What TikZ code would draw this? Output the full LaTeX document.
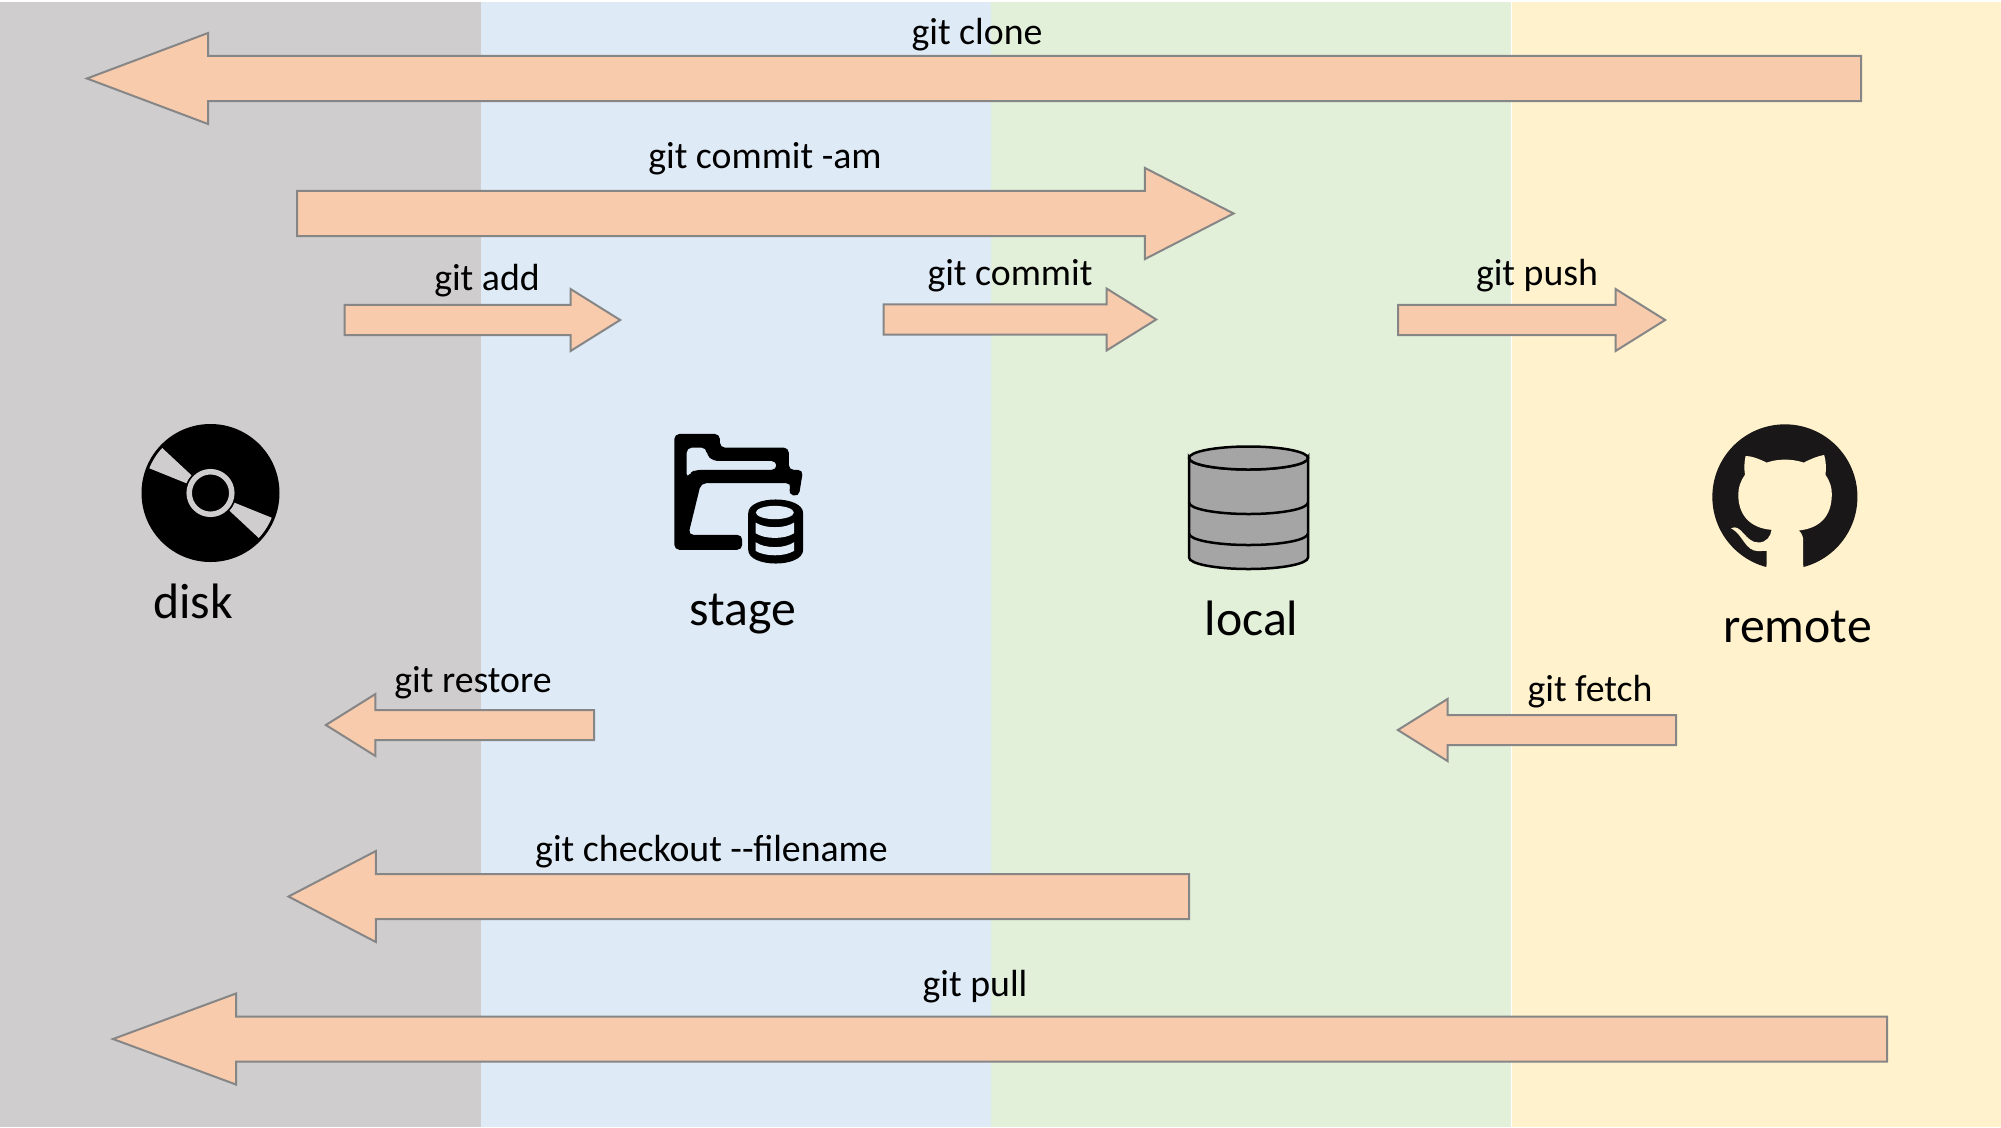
\documentclass[tikz,border=0pt]{standalone}
\usepackage{fontspec}
\setmainfont{Carlito}
\usetikzlibrary{shapes.arrows}
\definecolor{diskband}{HTML}{CFCDCD}
\definecolor{stageband}{HTML}{DEEAF6}
\definecolor{localband}{HTML}{E2EFD9}
\definecolor{remoteband}{HTML}{FFF2CC}
\definecolor{arrowfill}{HTML}{F8CBAD}
\definecolor{arrowline}{HTML}{868686}
\definecolor{dbgrey}{HTML}{A5A5A5}
\definecolor{catblack}{HTML}{1A1718}
\begin{document}
\begin{tikzpicture}[
    x=0.01cm, y=-0.01cm,
    gitarrow/.style={single arrow, draw=arrowline, fill=arrowfill, line width=0.02cm,
        inner xsep=0pt, outer sep=0pt, anchor=tail},
    bigarrow/.style={gitarrow, inner ysep=0.215cm, minimum width=0.89cm,
        single arrow head extend=0.23cm},
    smallarrow/.style={gitarrow, inner ysep=0.14cm, minimum width=0.60cm,
        single arrow head extend=0.16cm, single arrow tip angle=64},
    goleft/.style={shape border rotate=180},
    gitlabel/.style={font=\fontsize{10.75pt}{13pt}\selectfont, inner sep=0pt},
    placelabel/.style={font=\fontsize{14.15pt}{16pt}\selectfont, inner sep=0pt, anchor=base},
    zoomed/.style={x=0.00333cm, y=-0.00333cm},
    dbline/.style={draw=black, line width=0.025cm, fill=dbgrey}
]
\useasboundingbox (0,0) rectangle (2001,1127);
\fill[diskband] (0,2) rectangle (481,1127);
\fill[stageband] (481,2) rectangle (991,1127);
\fill[localband] (991,2) rectangle (1510.5,1127);
\fill[remoteband] (1512,2) rectangle (2001,1127);

\node (ArrowClone) [bigarrow, goleft, minimum height=17.73cm, single arrow tip angle=41.2] at (1861,78.5) {};
\node (ArrowCommitAll) [bigarrow, minimum height=9.36cm, single arrow tip angle=54.4] at (297,213.5) {};
\node (ArrowAdd) [smallarrow, minimum height=2.755cm] at (344.5,320) {};
\node (ArrowCommit) [smallarrow, minimum height=2.725cm] at (883.5,319.5) {};
\node (ArrowPush) [smallarrow, minimum height=2.67cm] at (1398,320) {};
\node (ArrowRestore) [smallarrow, goleft, minimum height=2.68cm] at (594,725) {};
\node (ArrowFetch) [smallarrow, goleft, minimum height=2.78cm] at (1676,730) {};
\node (ArrowCheckout) [bigarrow, goleft, minimum height=9.00cm, single arrow tip angle=55] at (1189,896.5) {};
\node (ArrowPull) [bigarrow, goleft, minimum height=17.73cm, single arrow tip angle=40.6] at (1887,1039) {};

\node (LabelClone) [gitlabel] at (977,34.5) {git clone};
\node (LabelCommitAll) [gitlabel] at (765,158.5) {git commit -am};
\node (LabelAdd) [gitlabel] at (487,280.5) {git add};
\node (LabelCommit) [gitlabel] at (1010,275.5) {git commit};
\node (LabelPush) [gitlabel] at (1537,275.5) {git push};
\node (LabelRestore) [gitlabel] at (473,682.5) {git restore};
\node (LabelFetch) [gitlabel] at (1590,691.5) {git fetch};
\node (LabelCheckout) [gitlabel] at (711.5,851.5) {git checkout -{}-f{}ilename};
\node (LabelPull) [gitlabel] at (975,986.5) {git pull};

\node (LabelDisk) [placelabel] at (193,618.5) {disk};
\node (LabelStage) [placelabel] at (742.5,625) {stage};
\node (LabelLocal) [placelabel] at (1251.5,635) {local};
\node (LabelRemote) [placelabel] at (1797.5,642) {remote};

% disk
\begin{scope}[shift={(210.5,493)}]
\fill[black] (0,0) circle[radius=69];
\fill[diskband] (-137:26) -- (-137:66) arc[start angle=-137, end angle=-158, radius=66]
    -- (-158:26) arc[start angle=-158, end angle=-137, radius=26] -- cycle;
\fill[diskband] (43:26) -- (43:66) arc[start angle=43, end angle=22, radius=66]
    -- (22:26) arc[start angle=22, end angle=43, radius=26] -- cycle;
\draw[diskband, line width=0.055cm] (0,0) circle[radius=21.3];
\end{scope}

% stage
\begin{scope}[shift={(665,425)}, zoomed]
\fill[black, even odd rule, rounded corners=0.5mm]
    (28,27) -- (165,27) -- (165,68) -- (372,68) -- (372,135) -- (415,135) -- (402,215)
    -- (370,208) -- (380,175) -- (108,175) -- (70,330) -- (232,330) -- (232,375) -- (28,375) -- cycle
    (65,68) -- (125,68) -- (125,90) -- (145,108) -- (335,108) -- (335,135) -- (90,135) -- (75,145) -- (65,160) -- cycle;
\fill[black] (250,265) .. controls (250,210) and (415,210) .. (415,265) -- (415,375)
    .. controls (415,430) and (250,430) .. (250,375) -- cycle;
\fill[stageband] (330,263) ellipse[x radius=57, y radius=20];
\fill[stageband] (272,293) .. controls (300,312) and (360,312) .. (388,293) -- (388,325)
    .. controls (360,344) and (300,344) .. (272,325) -- cycle;
\fill[stageband] (272,352) .. controls (300,372) and (360,372) .. (388,352) -- (388,378)
    .. controls (360,396) and (300,396) .. (272,378) -- cycle;
\end{scope}

% local
\draw[dbline] (1189,458) -- (1189,557.5) arc[start angle=180, end angle=0, x radius=59.5, y radius=11.5]
    -- (1308,458) arc[start angle=0, end angle=180, x radius=59.5, y radius=11.5] -- cycle;
\draw[dbline] (1248.5,458) ellipse[x radius=59.5, y radius=11.5];
\draw[black, line width=0.025cm] (1189,502.5) arc[start angle=180, end angle=0, x radius=59.5, y radius=11.5];
\draw[black, line width=0.025cm] (1189,533.5) arc[start angle=180, end angle=0, x radius=59.5, y radius=11.5];

% remote
\begin{scope}[shift={(1705,420)}, zoomed]
\fill[catblack] (240,231) circle[radius=218];
\fill[remoteband] (122,108) .. controls (140,108) and (165,118) .. (185,128)
    .. controls (220,116) and (260,116) .. (297,128)
    .. controls (315,118) and (340,108) .. (358,105)
    .. controls (364,125) and (364,145) .. (362,165)
    .. controls (376,185) and (382,205) .. (381,225)
    .. controls (380,290) and (345,325) .. (282,332)
    .. controls (292,342) and (295,350) .. (295,365)
    -- (295,435) -- (300,470) -- (180,470) -- (185,435) -- (185,393) -- (160,394)
    .. controls (120,394) and (115,345) .. (78,325)
    .. controls (110,310) and (120,368) .. (160,368)
    .. controls (185,368) and (197,350) .. (200,330)
    .. controls (135,325) and (100,285) .. (100,225)
    .. controls (100,205) and (105,185) .. (120,165)
    .. controls (117,145) and (118,125) .. (122,108) -- cycle;
\end{scope}
\end{tikzpicture}
\end{document}
